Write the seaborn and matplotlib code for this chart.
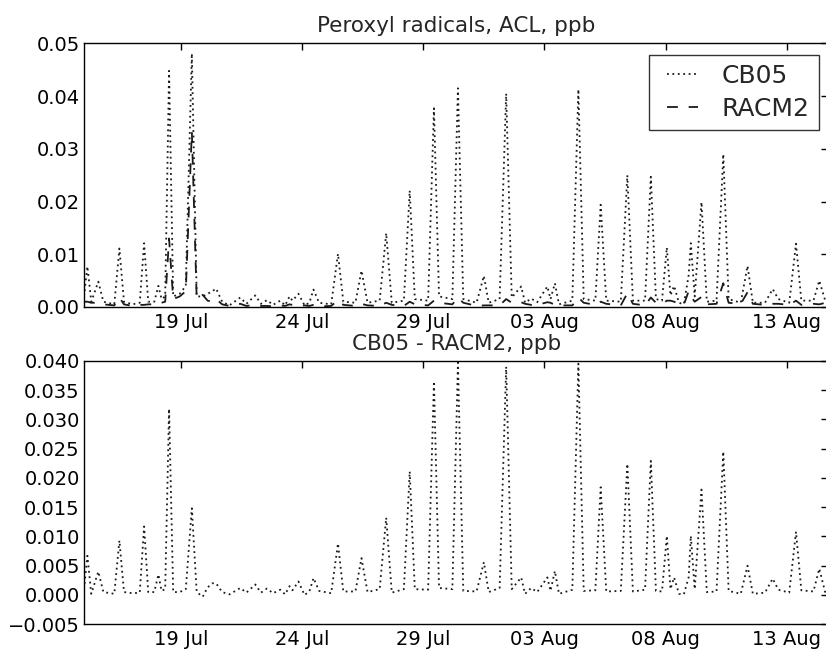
import pandas as pd
import matplotlib
matplotlib.use('Agg')
import matplotlib.pyplot as plt
import matplotlib.dates as mdates
from matplotlib.ticker import MultipleLocator
from matplotlib.legend_handler import HandlerLine2D
import seaborn as sns

# Stuetzpunkte aus der Vorlage: Tage ab 15 Jul 00:00, Werte in ppb
days = [0.00, 0.14, 0.30, 0.59, 0.80, 1.25, 1.46, 1.65, 2.00, 2.30, 2.48, 2.65,
        2.90, 3.07, 3.20, 3.35, 3.51, 3.68, 3.95, 4.20, 4.45, 4.65, 4.90, 5.10,
        5.30, 5.45, 5.70, 6.00, 6.45, 6.70, 7.07, 7.30, 7.55, 7.80, 8.10, 8.30,
        8.48, 8.60, 8.85, 9.10, 9.30, 9.47, 9.70, 10.20, 10.48, 10.70, 11.20, 11.45,
        11.70, 12.20, 12.47, 12.70, 13.20, 13.44, 13.65, 14.20, 14.44, 14.65, 15.20, 15.43,
        15.65, 16.20, 16.50, 16.70, 17.15, 17.42, 17.65, 18.04, 18.20, 18.45, 18.70, 19.12,
        19.25, 19.43, 19.60, 20.15, 20.40, 20.62, 21.10, 21.32, 21.55, 22.15, 22.42, 22.65,
        23.15, 23.39, 23.60, 23.85, 24.05, 24.20, 24.35, 24.55, 24.75, 24.95, 25.04, 25.20,
        25.48, 25.70, 26.10, 26.38, 26.60, 27.10, 27.38, 27.60, 28.10, 28.42, 28.65, 29.10,
        29.38, 29.60, 30.10, 30.34, 30.60, 30.85]

cb05 = [0.0020, 0.0077, 0.0010, 0.0048, 0.0010, 0.0005, 0.0111, 0.0010, 0.0005, 0.0008, 0.0121, 0.0010,
        0.0010, 0.0040, 0.0015, 0.0020, 0.0448, 0.0020, 0.0025, 0.0040, 0.0481, 0.0020, 0.0020, 0.0025,
        0.0030, 0.0035, 0.0010, 0.0003, 0.0018, 0.0006, 0.0022, 0.0006, 0.0013, 0.0004, 0.0012, 0.0003,
        0.0020, 0.0012, 0.0025, 0.0003, 0.0008, 0.0033, 0.0008, 0.0005, 0.0101, 0.0010, 0.0008, 0.0069,
        0.0008, 0.0012, 0.0140, 0.0008, 0.0012, 0.0221, 0.0015, 0.0012, 0.0377, 0.0020, 0.0015, 0.0415,
        0.0015, 0.0008, 0.0059, 0.0008, 0.0015, 0.0405, 0.0018, 0.0039, 0.0008, 0.0016, 0.0009, 0.0039,
        0.0015, 0.0045, 0.0005, 0.0012, 0.0413, 0.0015, 0.0012, 0.0194, 0.0012, 0.0010, 0.0250, 0.0012,
        0.0012, 0.0247, 0.0015, 0.0012, 0.0113, 0.0022, 0.0040, 0.0008, 0.0005, 0.0060, 0.0121, 0.0020,
        0.0199, 0.0010, 0.0012, 0.0290, 0.0015, 0.0008, 0.0078, 0.0008, 0.0008, 0.0034, 0.0015, 0.0008,
        0.0120, 0.0012, 0.0012, 0.0050, 0.0010, 0.0004]

racm2 = [0.0010, 0.0010, 0.0008, 0.0008, 0.0005, 0.0003, 0.0018, 0.0005, 0.0002, 0.0004, 0.0004, 0.0005,
         0.0005, 0.0005, 0.0008, 0.0010, 0.0130, 0.0015, 0.0020, 0.0030, 0.0333, 0.0015, 0.0023, 0.0012,
         0.0010, 0.0015, 0.0005, 0.0002, 0.0006, 0.0002, 0.0004, 0.0002, 0.0002, 0.0001, 0.0003, 0.0002,
         0.0005, 0.0004, 0.0002, 0.0003, 0.0002, 0.0004, 0.0001, 0.0002, 0.0013, 0.0004, 0.0002, 0.0006,
         0.0003, 0.0002, 0.0008, 0.0004, 0.0002, 0.0010, 0.0005, 0.0003, 0.0012, 0.0008, 0.0005, 0.0018,
         0.0008, 0.0002, 0.0003, 0.0003, 0.0003, 0.0015, 0.0008, 0.0009, 0.0006, 0.0004, 0.0004, 0.0009,
         0.0008, 0.0004, 0.0003, 0.0003, 0.0018, 0.0008, 0.0004, 0.0010, 0.0006, 0.0003, 0.0026, 0.0006,
         0.0003, 0.0018, 0.0008, 0.0006, 0.0012, 0.0012, 0.0010, 0.0006, 0.0004, 0.0030, 0.0020, 0.0010,
         0.0019, 0.0005, 0.0006, 0.0045, 0.0008, 0.0006, 0.0028, 0.0006, 0.0004, 0.0006, 0.0006, 0.0004,
         0.0012, 0.0004, 0.0006, 0.0005, 0.0008, 0.0004]

start = pd.Timestamp('2010-07-15')
df = pd.DataFrame({'time': start + pd.to_timedelta(days, unit='D'),
                   'CB05': cb05, 'RACM2': racm2})
df['diff'] = df['CB05'] - df['RACM2']

sns.set_theme(style='white')
plt.rcParams['font.family'] = ['DejaVu Sans']
plt.rcParams['axes.edgecolor'] = 'black'
plt.rcParams['axes.linewidth'] = 1.0

fig = plt.figure(figsize=(8.26, 6.49), dpi=100)
ax1 = fig.add_axes([0.1017, 0.527, 0.9013, 0.406])
ax2 = fig.add_axes([0.1017, 0.0381, 0.9013, 0.406])

dot = (0, (1, 2))
dash = (0, (6, 6))
sns.lineplot(data=df, x='time', y='CB05', ax=ax1, color='k', lw=1.3, linestyle=dot, label='CB05')
sns.lineplot(data=df, x='time', y='RACM2', ax=ax1, color='k', lw=1.3, linestyle=dash, label='RACM2')
sns.lineplot(data=df, x='time', y='diff', ax=ax2, color='k', lw=1.3, linestyle=dot, legend=False)

ticks = pd.date_range('2010-07-19', periods=6, freq='5D')
xend = start + pd.Timedelta(days=30.72)
for ax in (ax1, ax2):
    ax.set_xlim(start, xend)
    ax.set_xticks(ticks)
    ax.xaxis.set_major_formatter(mdates.DateFormatter('%d %b'))
    ax.set_xlabel('')
    ax.set_ylabel('')
    ax.tick_params(direction='in', top=True, right=True, length=5, width=1,
                   labelsize=14, colors='black')
    ax.tick_params(axis='x', pad=4)
    ax.tick_params(axis='y', pad=3)

ax1.set_ylim(0, 0.05)
ax1.yaxis.set_major_locator(MultipleLocator(0.01))
ax1.set_title('Peroxyl radicals, ACL, ppb', fontsize=15.5, pad=8)
ax2.set_ylim(-0.005, 0.040)
ax2.yaxis.set_major_locator(MultipleLocator(0.005))
ax2.set_title('CB05 - RACM2, ppb', fontsize=15.5, pad=8)

leg = ax1.legend(loc='upper right', bbox_to_anchor=(0.987, 0.956), fontsize=18,
                 frameon=True, fancybox=False, handlelength=1.6, handletextpad=0.95,
                 borderaxespad=0, labelspacing=0.36, borderpad=0.36,
                 handler_map={plt.Line2D: HandlerLine2D(xpad=0.36)})
leg.get_frame().set_edgecolor('black')
leg.get_frame().set_linewidth(1.0)

fig.savefig('out.png', dpi=100)
